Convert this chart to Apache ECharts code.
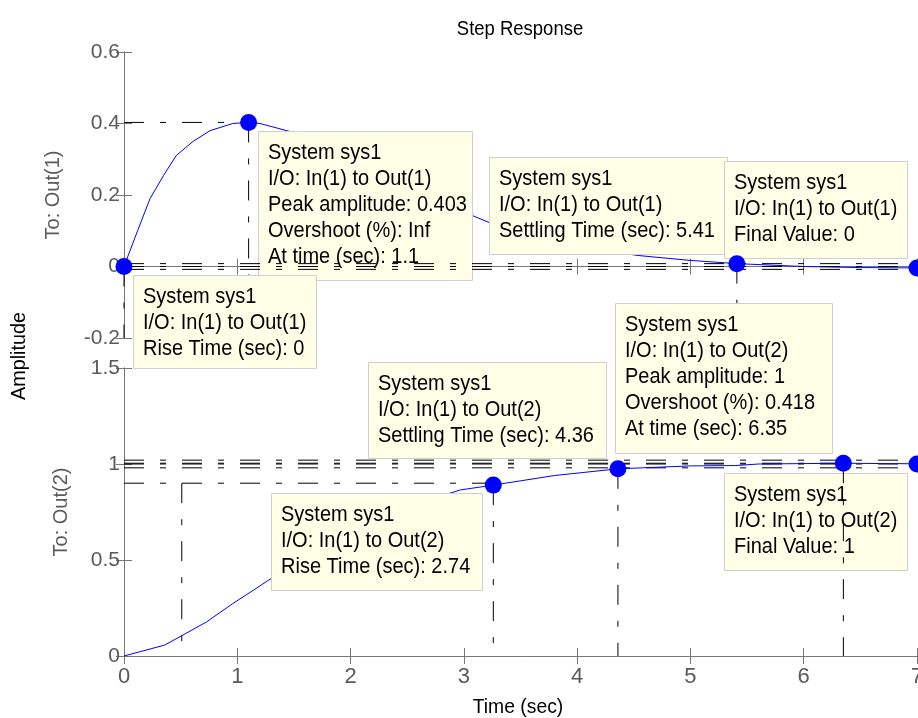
<!DOCTYPE html>
<html>
<head>
<meta charset="utf-8">
<script src="https://cdn.jsdelivr.net/npm/echarts@6/dist/echarts.min.js"></script>
<style>html,body{margin:0;padding:0;background:#fff}#c{width:918px;height:718px}</style>
</head>
<body>
<div id="c"></div>
<script>
// ---- data ----
const timeTicks = [0, 1, 2, 3, 4, 5, 6, 7];
const out1Time = [0, 0.12, 0.23, 0.35, 0.46, 0.61, 0.76, 0.96, 1.1, 1.2, 1.46, 2.0, 2.5, 3.08, 3.23, 3.6, 4.0, 4.53, 5.0, 5.41, 6.0, 6.5, 7.0];
const out1Amp  = [0, 0.10, 0.19, 0.255, 0.31, 0.35, 0.38, 0.40, 0.403, 0.40, 0.378, 0.30, 0.22, 0.142, 0.122, 0.088, 0.058, 0.031, 0.017, 0.008, 0.0, -0.003, -0.004];
const out2Time = [0, 0.36, 0.52, 0.73, 0.96, 1.14, 1.29, 1.5, 2.0, 2.5, 2.85, 2.97, 3.26, 3.8, 4.36, 5.0, 5.4, 5.6, 6.35, 7.0];
const out2Amp  = [0, 0.057, 0.109, 0.178, 0.273, 0.342, 0.40, 0.48, 0.65, 0.77, 0.843, 0.865, 0.89, 0.94, 0.975, 0.99, 0.992, 1.0, 1.004, 1.001];

// characteristic points [time, amplitude]
const out1Rise = [0, 0];
const out1Peak = [1.1, 0.403];
const out1Settle = [5.41, 0.008];
const out1Final = [7, -0.004];
const out1Band = [0.008, 0, -0.008];
const out2Rise10 = [0.51, 0.9];
const out2Rise90 = [3.26, 0.89];
const out2Settle = [4.36, 0.975];
const out2Peak = [6.35, 1.004];
const out2Final = [7, 1.0];
const out2Band = [1.02, 1.0, 0.98];

const boxTexts = [
  ['System sys1', 'I/O: In(1) to Out(1)', 'Peak amplitude: 0.403', 'Overshoot (%): Inf', 'At time (sec): 1.1'],
  ['System sys1', 'I/O: In(1) to Out(1)', 'Rise Time (sec): 0'],
  ['System sys1', 'I/O: In(1) to Out(1)', 'Settling Time (sec): 5.41'],
  ['System sys1', 'I/O: In(1) to Out(1)', 'Final Value: 0'],
  ['System sys1', 'I/O: In(1) to Out(2)', 'Peak amplitude: 1', 'Overshoot (%): 0.418', 'At time (sec): 6.35'],
  ['System sys1', 'I/O: In(1) to Out(2)', 'Settling Time (sec): 4.36'],
  ['System sys1', 'I/O: In(1) to Out(2)', 'Rise Time (sec): 2.74'],
  ['System sys1', 'I/O: In(1) to Out(2)', 'Final Value: 1']
];
// box layout (left, top, width, height) in px
const boxLayout = [
  [258, 131, 214, 149],
  [133, 275, 183, 93],
  [489, 157, 238, 97],
  [724, 161, 183, 97],
  [615, 303, 217, 150],
  [368, 362, 238, 96],
  [271, 493, 211, 97],
  [724, 473, 183, 97]
];

const FONT = '"Liberation Sans", Arial, Helvetica, sans-serif';
const AX = '#777';
const LBL = '#5a5a5a';
const DASH = [20, 16, 6, 16];

const zip = (a, b) => a.map((v, i) => [v, b[i]]);

function baseX(gi, showLabels) {
  return {
    type: 'value', gridIndex: gi, min: 0, max: 7, interval: 1, position: 'bottom',
    axisLine: { lineStyle: { color: AX, width: 1 } },
    axisTick: { inside: true, length: 8, lineStyle: { color: AX } },
    axisLabel: { show: showLabels, color: LBL, fontSize: 22, fontFamily: FONT, margin: 10 },
    splitLine: { show: false }
  };
}
function mirrorX(gi) {
  return {
    type: 'value', gridIndex: gi, min: 0, max: 7, interval: 1, position: 'top',
    axisLine: { lineStyle: { color: AX, width: 1 } },
    axisTick: { inside: true, length: 8, lineStyle: { color: AX } },
    axisLabel: { show: false }, splitLine: { show: false }
  };
}
function baseY(gi, min, max, interval, name, gap) {
  return {
    type: 'value', gridIndex: gi, min, max, interval, position: 'left',
    name, nameLocation: 'middle', nameGap: gap,
    nameTextStyle: { color: LBL, fontSize: 20, fontFamily: FONT },
    axisLine: { show: true, lineStyle: { color: AX, width: 1 } },
    axisTick: { show: true, inside: true, length: 8, lineStyle: { color: AX } },
    axisLabel: { color: LBL, fontSize: 21, fontFamily: FONT, margin: 4,
      formatter: v => String(Math.round(v * 100) / 100) },
    splitLine: { show: false }
  };
}
function mirrorY(gi, min, max, interval) {
  return {
    type: 'value', gridIndex: gi, min, max, interval, position: 'right',
    axisLine: { show: true, lineStyle: { color: AX, width: 1 } },
    axisTick: { show: true, inside: true, length: 8, lineStyle: { color: AX } },
    axisLabel: { show: false }, splitLine: { show: false }
  };
}

function dashed(gi, pts, z) {
  return {
    type: 'line', xAxisIndex: gi * 2, yAxisIndex: gi * 2, data: pts,
    symbol: 'none', silent: true, z: z, animation: false,
    lineStyle: { color: '#000', width: 1, type: DASH }
  };
}

const series = [];
// top plot reference lines
series.push(dashed(0, [[0, out1Peak[1]], out1Peak], 3));
series.push(dashed(0, [out1Peak, [out1Peak[0], -0.2]], 3));
series.push(dashed(0, [out1Settle, [out1Settle[0], -0.2]], 3));
out1Band.forEach(v => series.push(dashed(0, [[0, v], [7, v]], 20)));
series.push(dashed(0, [out1Rise, [out1Rise[0], -0.2]], 3));
// bottom plot reference lines
series.push(dashed(1, [[0, out2Rise10[1]], [out2Rise90[0], out2Rise10[1]]], 3));
series.push(dashed(1, [out2Rise10, [out2Rise10[0], 0]], 3));
series.push(dashed(1, [out2Rise90, [out2Rise90[0], 0]], 3));
series.push(dashed(1, [out2Settle, [out2Settle[0], 0]], 3));
series.push(dashed(1, [[0, out2Peak[1]], out2Peak], 3));
series.push(dashed(1, [out2Peak, [out2Peak[0], 0]], 20));
out2Band.forEach(v => series.push(dashed(1, [[0, v], [7, v]], 3)));

// curves
series.push({
  type: 'line', xAxisIndex: 0, yAxisIndex: 0, data: zip(out1Time, out1Amp),
  symbol: 'none', z: 4, animation: false, lineStyle: { color: '#0000ff', width: 1 }
});
series.push({
  type: 'line', xAxisIndex: 2, yAxisIndex: 2, data: zip(out2Time, out2Amp),
  symbol: 'none', z: 4, animation: false, lineStyle: { color: '#0000ff', width: 1 }
});
// markers
series.push({
  type: 'scatter', xAxisIndex: 0, yAxisIndex: 0, clip: false, z: 30,
  data: [out1Rise, out1Peak, out1Settle, out1Final], symbolSize: 17,
  itemStyle: { color: '#0000ff', opacity: 1 }, animation: false
});
series.push({
  type: 'scatter', xAxisIndex: 2, yAxisIndex: 2, clip: false, z: 30,
  data: [out2Rise90, out2Settle, out2Peak, out2Final], symbolSize: 17,
  itemStyle: { color: '#0000ff', opacity: 1 }, animation: false
});

const graphics = [];
boxLayout.forEach((b, i) => {
  graphics.push({
    type: 'rect', z: 10, silent: true,
    shape: { x: b[0] + 0.5, y: b[1] + 0.5, width: b[2], height: b[3] },
    style: { fill: '#ffffe8', stroke: '#cfcfcf', lineWidth: 1 }
  });
  graphics.push({
    type: 'text', z: 11, silent: true, x: b[0] + 10, y: b[1] + 9, scaleX: 0.93,
    style: { text: boxTexts[i].join('\n'), fill: '#000', font: '21.5px ' + FONT,
      lineHeight: 26, textAlign: 'left', textVerticalAlign: 'top' }
  });
});
graphics.push({ type: 'text', z: 11, x: 520, y: 29, scaleX: 0.88,
  style: { text: 'Step Response', fill: '#000', font: '21px ' + FONT, textAlign: 'center', textVerticalAlign: 'middle' } });
graphics.push({ type: 'text', z: 11, x: 19, y: 356, rotation: Math.PI / 2, scaleX: 0.94,
  style: { text: 'Amplitude', fill: '#000', font: '21px ' + FONT, textAlign: 'center', textVerticalAlign: 'middle' } });
graphics.push({ type: 'text', z: 11, x: 518, y: 707, scaleX: 0.92,
  style: { text: 'Time (sec)', fill: '#000', font: '21px ' + FONT, textAlign: 'center', textVerticalAlign: 'middle' } });

const option = {
  backgroundColor: '#fff',
  animation: false,
  grid: [
    { left: 124, top: 52, width: 793, height: 286, containLabel: false, outerBoundsMode: 'none' },
    { left: 124, top: 368, width: 793, height: 288, containLabel: false, outerBoundsMode: 'none' }
  ],
  xAxis: [baseX(0, false), mirrorX(0), baseX(1, true), mirrorX(1)],
  yAxis: [
    baseY(0, -0.2, 0.6, 0.2, 'To: Out(1)', 61), mirrorY(0, -0.2, 0.6, 0.2),
    baseY(1, 0, 1.5, 0.5, 'To: Out(2)', 53), mirrorY(1, 0, 1.5, 0.5)
  ],
  series,
  graphic: { elements: graphics }
};

const chart = echarts.init(document.getElementById('c'), null, { renderer: 'canvas' });
chart.setOption(option);
</script>
</body>
</html>
